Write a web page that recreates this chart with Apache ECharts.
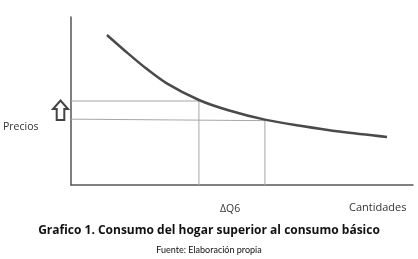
<!DOCTYPE html>
<html><head><meta charset="utf-8">
<script src="https://cdn.jsdelivr.net/npm/echarts@6/dist/echarts.min.js"></script>
<style>html,body{margin:0;padding:0;background:#fff}#c{width:418px;height:259px}</style>
</head><body><div id="c"></div>
<script>
// Demand-like curve (quantity, price) in chart units 0-100
const curveX = [10.5, 16.0, 21.9, 28.0, 37.4, 46.0, 56.7, 67.0, 79.0, 92.4];
const curveY = [89.3, 79.5, 69.5, 60.5, 50.6, 44.5, 38.9, 35.3, 31.7, 28.6];
// Reference guide lines
const guide1X = [0, 37.4, 37.4];
const guide1Y = [50.0, 50.0, 0];
const guide2X = [0, 56.7, 56.7];
const guide2Y = [39.2, 38.3, 0];
const texts = {
  yName: 'Precios', xMark: 'ΔQ6', xName: 'Cantidades',
  title: 'Grafico 1. Consumo del hogar superior al consumo básico',
  source: 'Fuente: Elaboración propia'
};
const zip = (a, b) => a.map((v, i) => [v, b[i]]);
const chart = echarts.init(document.getElementById('c'), null, {renderer: 'canvas'});
const axisCommon = {
  type: 'value', min: 0, max: 100,
  axisLine: {show: true, lineStyle: {color: '#555', width: 1.5}},
  axisTick: {show: false}, axisLabel: {show: false}, splitLine: {show: false}
};
chart.setOption({
  animation: false,
  grid: {left: 71, right: 5, top: 17, bottom: 74, containLabel: false},
  xAxis: axisCommon,
  yAxis: axisCommon,
  series: [
    {type: 'line', data: zip(guide1X, guide1Y), symbol: 'none', lineStyle: {color: '#a6a6a6', width: 1}, z: 1},
    {type: 'line', data: zip(guide2X, guide2Y), symbol: 'none', lineStyle: {color: '#a6a6a6', width: 1}, z: 1},
    {type: 'line', data: zip(curveX, curveY), symbol: 'none', smooth: 0.3, lineStyle: {color: '#4a4a4a', width: 2.5}, z: 3}
  ],
  graphic: [
    {type: 'polygon', shape: {points: [[60.5, 100.5], [68, 109], [64.3, 109], [64.3, 120], [56.7, 120], [56.7, 109], [53, 109]]},
      style: {fill: '#fff', stroke: '#444', lineWidth: 2}},
    {type: 'text', left: 3, top: 122, style: {text: texts.yName, font: '10.5px "Open Sans"', fill: '#333'}},
    {type: 'text', left: 220, top: 204, style: {text: texts.xMark, font: '10.5px "Open Sans"', fill: '#333'}},
    {type: 'text', left: 349, top: 202, style: {text: texts.xName, font: '11px "Open Sans"', fill: '#333'}},
    {type: 'text', left: 'center', top: 225, style: {text: texts.title, font: 'bold 12px "Open Sans"', fill: '#111'}},
    {type: 'text', left: 'center', top: 246, style: {text: texts.source, font: '9px Lato', fill: '#111'}}
  ]
});
</script></body></html>
